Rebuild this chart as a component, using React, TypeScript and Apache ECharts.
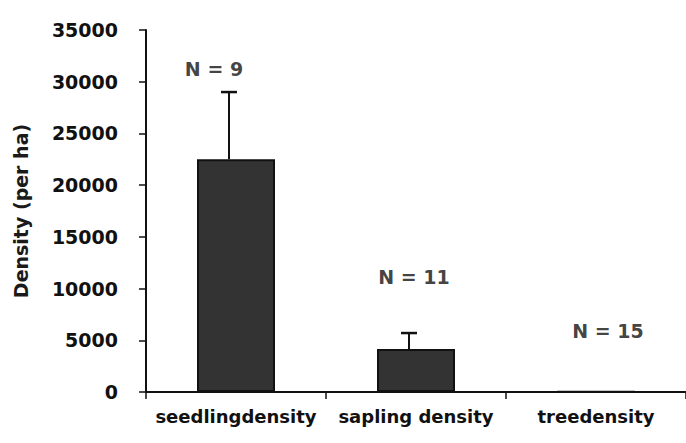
import React, { useEffect, useRef } from "react";
import * as echarts from "echarts";

const categories = ["seedlingdensity", "sapling density", "treedensity"];
const densityMeans = [22500, 4150, 30];
const densityUpper = [29000, 5700, 30];
const sampleLabels = ["N = 9", "N = 11", "N = 15"];
const sampleLabelHeights = [31200, 11100, 5900];
const sampleLabelShift = [-22, -2, 12];
const yTicks = { min: 0, max: 35000, interval: 5000 };

const FONT = "DejaVu Sans";

export default function App() {
  const ref = useRef<HTMLDivElement>(null);
  useEffect(() => {
    if (!ref.current) return;
    const chart = echarts.init(ref.current, null, { renderer: "svg" });
    chart.setOption({
      animation: false,
      backgroundColor: "#ffffff",
      grid: { left: 146, right: -6, top: 30, bottom: 51, containLabel: false },
      xAxis: {
        type: "category",
        data: categories,
        boundaryGap: true,
        axisLine: { lineStyle: { color: "#111", width: 2 } },
        axisTick: { show: true, alignWithLabel: false, length: 7, lineStyle: { color: "#111", width: 1.5 } },
        axisLabel: {
          interval: 0,
          color: "#111",
          fontFamily: FONT,
          fontWeight: "bold",
          fontSize: 18,
          margin: 15,
        },
      },
      yAxis: {
        type: "value",
        min: yTicks.min,
        max: yTicks.max,
        interval: yTicks.interval,
        name: "Density (per ha)",
        nameLocation: "middle",
        nameRotate: 90,
        nameGap: 116,
        nameTextStyle: { color: "#1a1a1a", fontFamily: FONT, fontWeight: "bold", fontSize: 19 },
        splitLine: { show: false },
        axisLine: { show: true, lineStyle: { color: "#111", width: 2 } },
        axisTick: { show: true, length: 7, lineStyle: { color: "#111", width: 1.5 } },
        axisLabel: {
          color: "#111",
          fontFamily: FONT,
          fontWeight: "bold",
          fontSize: 19,
          margin: 28,
          formatter: (v: number) => String(v),
        },
      },
      series: [
        {
          type: "bar",
          data: densityMeans,
          barWidth: 78,
          itemStyle: { color: "#333333", borderColor: "#111", borderWidth: 2 },
          z: 2,
        },
        {
          type: "custom",
          data: densityMeans.map((m, i) => [i, m, densityUpper[i]]),
          renderItem: (params: any, api: any) => {
            const i = api.value(0);
            const lo = api.coord([i, api.value(1)]);
            const hi = api.coord([i, api.value(2)]);
            if (Math.abs(lo[1] - hi[1]) < 1) return { type: "group", children: [] };
            const x = lo[0] - 7;
            return {
              type: "group",
              children: [
                { type: "line", shape: { x1: x, y1: lo[1], x2: x, y2: hi[1] }, style: { stroke: "#111", lineWidth: 2 } },
                { type: "line", shape: { x1: x - 8, y1: hi[1], x2: x + 8, y2: hi[1] }, style: { stroke: "#111", lineWidth: 2.5 } },
              ],
            };
          },
          z: 3,
        },
        {
          type: "scatter",
          data: sampleLabelHeights.map((v, i) => ({
            value: [i, v],
            label: { offset: [sampleLabelShift[i], 0] },
          })),
          symbolSize: 0,
          itemStyle: { color: "transparent" },
          label: {
            show: true,
            position: "inside",
            formatter: (p: any) => sampleLabels[p.dataIndex],
            color: "#111",
            fontFamily: FONT,
            fontWeight: "bold",
            fontSize: 19,
          },
          z: 4,
        },
      ],
    });
    return () => chart.dispose();
  }, []);
  return <div ref={ref} style={{ width: 686, height: 443, position: "absolute", left: 0, top: 0 }} />;
}
